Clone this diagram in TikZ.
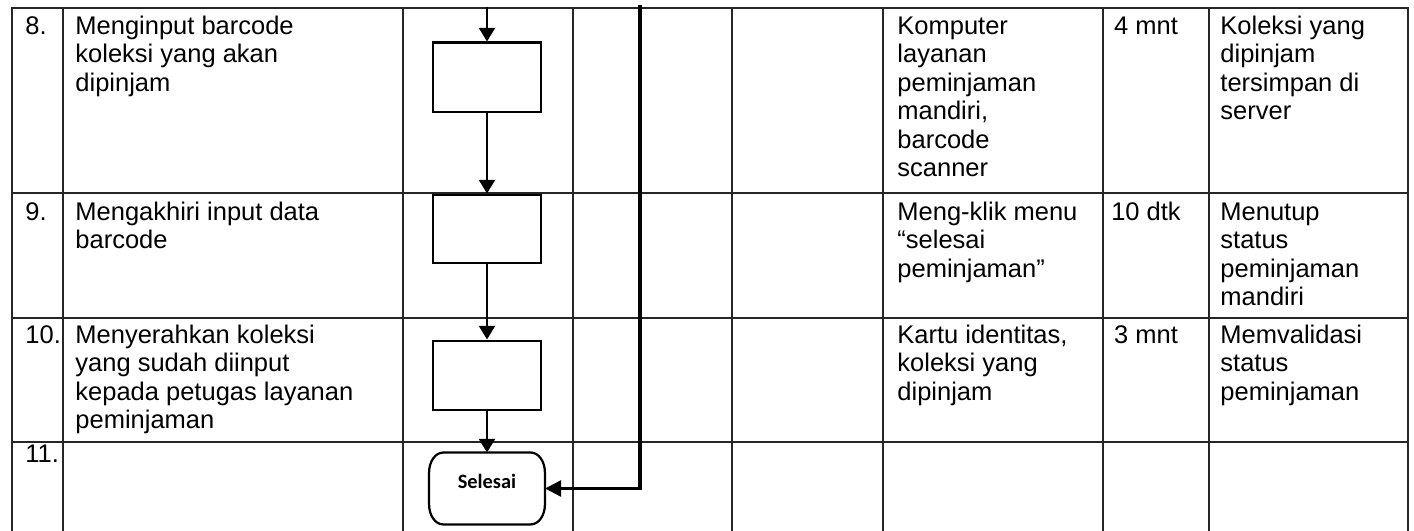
\documentclass[tikz,border=0pt]{standalone}
\usepackage{fontspec}
\setmainfont{Liberation Sans}
\newfontfamily\termfont{Carlito}
\usetikzlibrary{arrows.meta}
% one drawing unit = one pixel of the page
\def\pxlen{0.4706pt}
\newcommand\cellfont{\fontsize{12}{13.41}\selectfont}
\begin{document}
\begin{tikzpicture}[x=\pxlen, y=\pxlen,
  grid/.style={line width=0.75pt, draw=black!85, line cap=rect},
  cell/.style={anchor=north west, inner sep=0pt, align=left, font=\cellfont},
  timecell/.style={anchor=north, inner sep=0pt, align=center, font=\cellfont},
  procbox/.style={draw, line width=1.4pt, minimum width={108*\pxlen},
    minimum height={69*\pxlen}, inner sep=0pt},
  termbox/.style={draw=none, minimum width={115*\pxlen},
    minimum height={71*\pxlen}, inner sep=0pt},
  termline/.style={line width=1.05pt},
  flow/.style={line width=1.3pt, -{Triangle[width=7.4pt,length=6.4pt]}},
  backflow/.style={line width=1.6pt, -{Triangle[width=7.4pt,length=7.6pt]}}
]
\useasboundingbox (0,0) rectangle (1414,531);

% table grid (the table continues below the page)
\foreach \x in {12,63,403,573,732,883,1103,1209,1408}
  \draw[grid] (\x,523) -- (\x,0);
\foreach \y in {523,338,213,89}
  \draw[grid] (12,\y) -- (1408,\y);

% step numbers
\node[cell] (n8)  at (25,517) {\strut 8.};
\node[cell] (n9)  at (25,331) {\strut 9.};
\node[cell] (n10) at (25,208) {\strut 10.};
\node[cell] (n11) at (25,89)  {\strut 11.};

% activities
\node[cell] (a8)  at (75,517) {\strut Menginput barcode\\koleksi yang akan\\dipinjam};
\node[cell] (a9)  at (75,331) {\strut Mengakhiri input data\\barcode};
\node[cell] (a10) at (75,208) {\strut Menyerahkan koleksi\\yang sudah diinput\\kepada petugas layanan\\peminjaman};

% requirements
\node[cell] (r8)  at (897,517) {\strut Komputer\\layanan\\peminjaman\\mandiri,\\barcode\\scanner};
\node[cell] (r9)  at (897,331) {\strut Meng-klik menu\\“selesai\\peminjaman”};
\node[cell] (r10) at (897,208) {\strut Kartu identitas,\\koleksi yang\\dipinjam};

% time
\node[timecell] (t8)  at (1146,517) {\strut 4 mnt};
\node[timecell] (t9)  at (1146,331) {\strut 10 dtk};
\node[timecell] (t10) at (1146,208) {\strut 3 mnt};

% output
\node[cell] (o8)  at (1220,517) {\strut Koleksi yang\\dipinjam\\tersimpan di\\server};
\node[cell] (o9)  at (1220,331) {\strut Menutup\\status\\peminjaman\\mandiri};
\node[cell] (o10) at (1220,208) {\strut Memvalidasi\\status\\peminjaman};

% flow symbols
\node[procbox] (b1) at (487,453.5) {};
\node[procbox, minimum height={68*\pxlen}] (b2) at (487,302) {};
\node[procbox] (b3) at (487,155.5) {};
\node[termbox] (sel) at (487,42.5) {};
\draw[termline]
  ([xshift=14*\pxlen]sel.north west) -- ([xshift=-14*\pxlen]sel.north east)
  arc[start angle=90, end angle=0, x radius=14*\pxlen, y radius=20*\pxlen]
  -- ([yshift=20*\pxlen]sel.south east)
  arc[start angle=0, end angle=-90, x radius=14*\pxlen, y radius=20*\pxlen]
  -- ([xshift=14*\pxlen]sel.south west)
  arc[start angle=270, end angle=180, x radius=14*\pxlen, y radius=20*\pxlen]
  -- ([yshift=-20*\pxlen]sel.north west)
  arc[start angle=180, end angle=90, x radius=14*\pxlen, y radius=20*\pxlen]
  -- cycle;
\node[anchor=base, inner sep=0pt, font=\termfont\bfseries\fontsize{9.6}{11}\selectfont]
  (seltext) at (sel.center) {Selesai};

% connectors
\coordinate (fromabove) at (487,524);
\coordinate (fromright) at (640,526);
\draw[flow] (fromabove) -- (b1.north);
\draw[flow] (b1.south) -- (b2.north);
\draw[flow] (b2.south) -- (b3.north);
\draw[flow] (b3.south) -- (sel.north);
\draw[backflow] (fromright) |- (sel.east);
\end{tikzpicture}
\end{document}
